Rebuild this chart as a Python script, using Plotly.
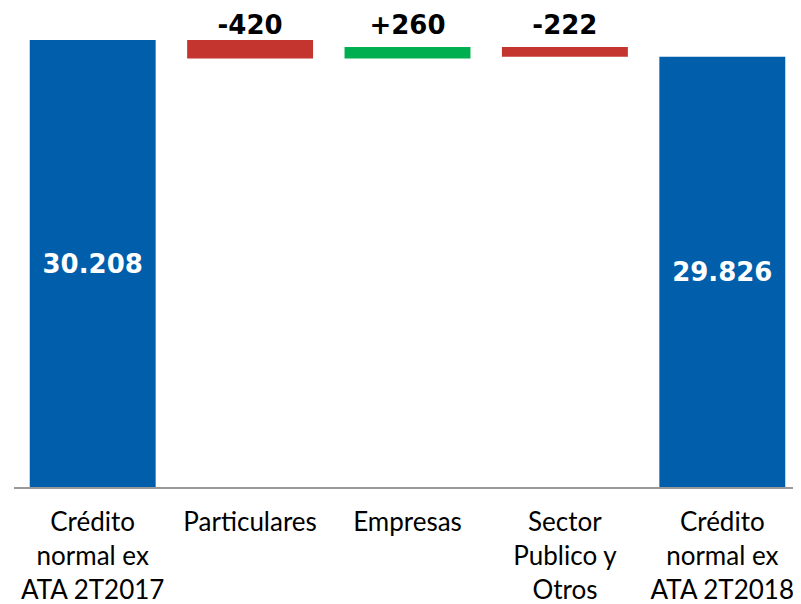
import plotly.graph_objects as go

categories = ["Crédito<br>normal ex<br>ATA 2T2017", "Particulares", "Empresas",
              "Sector<br>Publico y<br>Otros", "Crédito<br>normal ex<br>ATA 2T2018"]
values = [30208, -420, 260, -222, 29826]
measures = ["total", "relative", "relative", "relative", "total"]
labels = ["30.208", "-420", "+260", "-222", "29.826"]

BLUE = "#005EAA"
RED = "#C4352F"
GREEN = "#00AF50"
AXIS_MIN = 20000
AXIS_MAX = 30940

bases, heights, colors, inside_text = [], [], [], []
rel_x, rel_text, rel_tops = [], [], []
running = 0
for c, v, m, t in zip(categories, values, measures, labels):
    if m == "total":
        bases.append(AXIS_MIN)
        heights.append(v - AXIS_MIN)
        colors.append(BLUE)
        inside_text.append(t)
        running = v
    else:
        lo = min(running, running + v)
        hi = max(running, running + v)
        bases.append(lo)
        heights.append(hi - lo)
        colors.append(GREEN if v > 0 else RED)
        inside_text.append("")
        rel_x.append(c)
        rel_text.append(t)
        rel_tops.append(hi)
        running += v

label_level = max(rel_tops)

fig = go.Figure()
fig.add_trace(go.Bar(
    x=categories, y=heights, base=bases,
    marker=dict(color=colors, line=dict(width=0)),
    text=inside_text, textposition="inside",
    insidetextanchor="middle",
    insidetextfont=dict(family="DejaVu Sans", size=26, color="white", weight="bold"),
    textangle=0,
    hoverinfo="skip",
))
fig.add_trace(go.Scatter(
    x=rel_x, y=[label_level] * len(rel_x),
    mode="text", text=rel_text, textposition="top center",
    textfont=dict(family="DejaVu Sans", size=26, color="black", weight="bold"),
    cliponaxis=False, hoverinfo="skip",
))

fig.update_layout(
    width=801, height=604,
    margin=dict(l=6, r=8, t=0, b=125),
    plot_bgcolor="white", paper_bgcolor="white",
    bargap=0.2,
    showlegend=False,
    xaxis=dict(showline=True, linecolor="#999999", linewidth=1.5, ticks="",
               tickfont=dict(family="Lato", size=26, color="black"),
               ticklabelstandoff=11,
               showgrid=False, zeroline=False, automargin=False),
    yaxis=dict(range=[AXIS_MIN, AXIS_MAX], visible=False, showgrid=False,
               zeroline=False, automargin=False),
)

fig.write_html("out.html")
